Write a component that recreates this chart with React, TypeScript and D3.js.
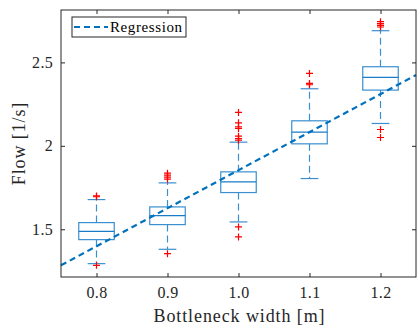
import React, { useEffect, useRef } from 'react'
import * as d3 from 'd3'

// bottleneck widths [m] and box statistics of the flow [1/s]
const widths = [0.8, 0.9, 1.0, 1.1, 1.2]
const q1 = [1.438, 1.528, 1.72, 2.012, 2.334]
const median = [1.488, 1.582, 1.784, 2.082, 2.41]
const q3 = [1.54, 1.634, 1.844, 2.15, 2.474]
const whiskerLo = [1.294, 1.38, 1.544, 1.804, 2.134]
const whiskerHi = [1.678, 1.778, 2.022, 2.342, 2.69]
const outliers = [
  [1.7, 1.695, 1.284],
  [1.836, 1.824, 1.812, 1.8, 1.354],
  [2.2, 2.138, 2.114, 2.104, 2.058, 2.044, 2.034, 1.514, 1.454],
  [2.434, 2.374, 2.366],
  [2.744, 2.732, 2.722, 2.712, 2.098, 2.05],
]
const xTicks = [0.8, 0.9, 1.0, 1.1, 1.2]
const xTickLabels = ['0.8', '0.9', '1.0', '1.1', '1.2']
const yTicks = [1.5, 2, 2.5]
const yTickLabels = ['1.5', '2', '2.5']
// regression line flow = slope * width + intercept
const regSlope = 2.28
const regIntercept = -0.426
const regRange = [0.75, 1.25]

const W = 417
const H = 328
const FONT = '"Liberation Serif", "DejaVu Serif", serif'

const App = () => {
  const svgRef = useRef()

  useEffect(() => {
    const svg = d3.select(svgRef.current)
    svg.selectAll('*').remove()

    const margin = { top: 10, right: 1, bottom: 51, left: 61 }
    const width = W - margin.left - margin.right
    const height = H - margin.top - margin.bottom

    const x = d3.scaleLinear().domain([0.75, 1.25]).range([0, width])
    const y = d3.scaleLinear().domain([1.214, 2.814]).range([height, 0])

    const g = svg
      .append('g')
      .attr('transform', `translate(${margin.left},${margin.top})`)

    g.append('rect')
      .attr('width', width)
      .attr('height', height)
      .attr('fill', '#fff')

    const blue = '#3a8fd0'
    const boxW = 0.05
    const capW = 0.025

    const boxes = g
      .selectAll('g.box')
      .data(widths)
      .enter()
      .append('g')
      .attr('class', 'box')

    // whiskers
    boxes
      .append('line')
      .attr('x1', (d) => x(d))
      .attr('x2', (d) => x(d))
      .attr('y1', (d, i) => y(q3[i]))
      .attr('y2', (d, i) => y(whiskerHi[i]))
      .attr('stroke', blue)
      .attr('stroke-width', 1.2)
      .attr('stroke-dasharray', '7,4')
    boxes
      .append('line')
      .attr('x1', (d) => x(d))
      .attr('x2', (d) => x(d))
      .attr('y1', (d, i) => y(q1[i]))
      .attr('y2', (d, i) => y(whiskerLo[i]))
      .attr('stroke', blue)
      .attr('stroke-width', 1.2)
      .attr('stroke-dasharray', '7,4')
    // caps
    ;[whiskerHi, whiskerLo].forEach((arr) => {
      boxes
        .append('line')
        .attr('x1', (d) => x(d - capW / 2))
        .attr('x2', (d) => x(d + capW / 2))
        .attr('y1', (d, i) => y(arr[i]))
        .attr('y2', (d, i) => y(arr[i]))
        .attr('stroke', blue)
        .attr('stroke-width', 1.2)
    })
    // box
    boxes
      .append('rect')
      .attr('x', (d) => x(d - boxW / 2))
      .attr('width', x(boxW) - x(0))
      .attr('y', (d, i) => y(q3[i]))
      .attr('height', (d, i) => y(q1[i]) - y(q3[i]))
      .attr('fill', 'none')
      .attr('stroke', blue)
      .attr('stroke-width', 1.2)
    // median
    boxes
      .append('line')
      .attr('x1', (d) => x(d - boxW / 2))
      .attr('x2', (d) => x(d + boxW / 2))
      .attr('y1', (d, i) => y(median[i]))
      .attr('y2', (d, i) => y(median[i]))
      .attr('stroke', '#1a7cc6')
      .attr('stroke-width', 1.2)

    // outliers
    const pts = widths.flatMap((w, i) => outliers[i].map((v) => ({ w, v })))
    const plus = g
      .selectAll('g.out')
      .data(pts)
      .enter()
      .append('g')
      .attr('transform', (d) => `translate(${x(d.w)},${y(d.v)})`)
    plus
      .append('path')
      .attr('d', 'M-3.5,0H3.5M0,-3.5V3.5')
      .attr('stroke', '#ff0000')
      .attr('stroke-width', 1.2)

    // regression
    const line = d3
      .line()
      .x((d) => x(d))
      .y((d) => y(regSlope * d + regIntercept))
    g.append('path')
      .datum(regRange)
      .attr('d', line)
      .attr('fill', 'none')
      .attr('stroke', '#0072BD')
      .attr('stroke-width', 2.2)
      .attr('stroke-dasharray', '6,4')

    // axes with inward ticks on all sides
    const axisColor = '#262626'
    const tickLen = 4
    const styleAxis = (sel) => {
      sel.select('.domain').remove()
      sel.selectAll('.tick line').attr('stroke', axisColor)
      sel
        .selectAll('.tick text')
        .attr('fill', axisColor)
        .style('font-family', FONT)
        .style('font-size', '16px')
        .style('letter-spacing', '0.3px')
    }
    g.append('g')
      .attr('transform', `translate(0,${height})`)
      .call(
        d3
          .axisBottom(x)
          .tickValues(xTicks)
          .tickFormat((d, i) => xTickLabels[i])
          .tickSizeInner(-tickLen)
          .tickPadding(10)
      )
      .call(styleAxis)
    g.append('g')
      .call(d3.axisTop(x).tickValues(xTicks).tickFormat('').tickSizeInner(-tickLen))
      .call(styleAxis)
    g.append('g')
      .call(
        d3
          .axisLeft(y)
          .tickValues(yTicks)
          .tickFormat((d, i) => yTickLabels[i])
          .tickSizeInner(-tickLen)
          .tickPadding(8)
      )
      .call(styleAxis)
    g.append('g')
      .attr('transform', `translate(${width},0)`)
      .call(d3.axisRight(y).tickValues(yTicks).tickFormat('').tickSizeInner(-tickLen))
      .call(styleAxis)

    g.append('rect')
      .attr('width', width)
      .attr('height', height)
      .attr('fill', 'none')
      .attr('stroke', axisColor)
      .attr('stroke-width', 1)

    // legend
    const leg = g.append('g').attr('transform', 'translate(11,7)')
    leg
      .append('rect')
      .attr('width', 114)
      .attr('height', 20)
      .attr('fill', '#fff')
      .attr('stroke', axisColor)
      .attr('stroke-width', 1)
    leg
      .append('line')
      .attr('x1', 2)
      .attr('x2', 36)
      .attr('y1', 10)
      .attr('y2', 10)
      .attr('stroke', '#0072BD')
      .attr('stroke-width', 2.2)
      .attr('stroke-dasharray', '6,4')
    leg
      .append('text')
      .attr('x', 38)
      .attr('y', 14.5)
      .attr('fill', '#000')
      .style('font-family', FONT)
      .style('font-size', '15px')
      .style('letter-spacing', '0.6px')
      .text('Regression')

    // axis labels
    svg
      .append('text')
      .attr('x', margin.left + width / 2 + 1)
      .attr('y', 322)
      .attr('text-anchor', 'middle')
      .attr('fill', axisColor)
      .style('font-family', FONT)
      .style('font-size', '18px')
      .style('letter-spacing', '0.9px')
      .text('Bottleneck width [m]')
    svg
      .append('text')
      .attr('transform', `translate(25,${margin.top + height / 2}) rotate(-90)`)
      .attr('text-anchor', 'middle')
      .attr('fill', axisColor)
      .style('font-family', FONT)
      .style('font-size', '18px')
      .style('letter-spacing', '0.9px')
      .text('Flow [1/s]')
  }, [])

  return (
    <svg
      ref={svgRef}
      width={W}
      height={H}
      style={{ position: 'absolute', left: 0, top: 0, background: '#fff' }}
    ></svg>
  )
}

export default App
